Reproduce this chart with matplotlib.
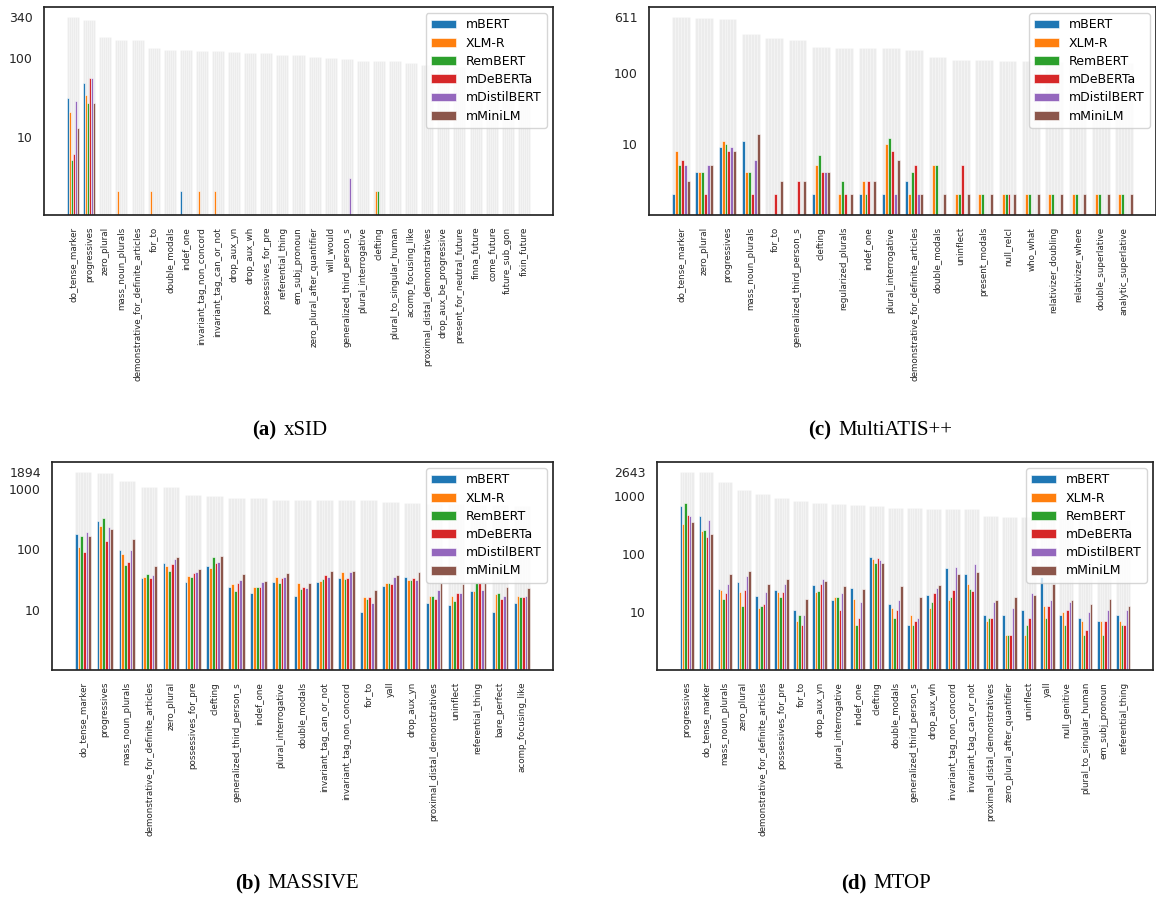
import matplotlib.pyplot as plt
import numpy as np
from matplotlib.offsetbox import TextArea, HPacker, AnnotationBbox

models = ["mBERT", "XLM-R", "RemBERT", "mDeBERTa", "mDistilBERT", "mMiniLM"]
colors = ["#1f77b4", "#ff7f0e", "#2ca02c", "#d62728", "#9467bd", "#8c564b"]

# ---- xSID ----
xsid_features = ["do_tense_marker", "progressives", "zero_plural", "mass_noun_plurals",
                 "demonstrative_for_definite_articles", "for_to", "double_modals", "indef_one",
                 "invariant_tag_non_concord", "invariant_tag_can_or_not", "drop_aux_yn",
                 "drop_aux_wh", "possessives_for_pre", "referential_thing", "em_subj_pronoun",
                 "zero_plural_after_quantifier", "will_would", "generalized_third_person_s",
                 "plural_interrogative", "clefting", "plural_to_singular_human",
                 "acomp_focusing_like", "proximal_distal_demonstratives",
                 "drop_aux_be_progressive", "present_for_neutral_future", "finna_future",
                 "come_future", "future_sub_gon", "fixin_future"]
xsid_totals = [340, 313, 188, 172, 172, 136, 130, 128, 124, 124, 122, 119, 117, 112, 111,
               103, 100, 99, 94, 93, 92, 87, 83, 80, 78, 75, 72, 70, 68]
xsid_mbert = [31, 49, 0, 0, 0, 0, 0, 2, 0, 0, 0, 0, 0, 0, 0,
              0, 0, 0, 0, 0, 0, 0, 0, 0, 0, 0, 0, 0, 0]
xsid_xlmr = [21, 34, 0, 2, 0, 2, 0, 0, 2, 2, 0, 0, 0, 0, 0,
             0, 0, 0, 0, 2, 0, 0, 0, 0, 0, 0, 0, 0, 0]
xsid_rembert = [5, 27, 0, 0, 0, 0, 0, 0, 0, 0, 0, 0, 0, 0, 0,
                0, 0, 0, 0, 2, 0, 0, 0, 0, 0, 0, 0, 0, 0]
xsid_mdeberta = [6, 57, 0, 0, 0, 0, 0, 0, 0, 0, 0, 0, 0, 0, 0,
                 0, 0, 0, 0, 0, 0, 0, 0, 0, 0, 0, 0, 0, 0]
xsid_mdistil = [29, 57, 0, 0, 0, 0, 0, 0, 0, 0, 0, 0, 0, 0, 0,
                0, 0, 3, 0, 0, 0, 0, 0, 0, 0, 0, 0, 0, 0]
xsid_mminilm = [13, 27, 0, 0, 0, 0, 0, 0, 0, 0, 0, 0, 0, 0, 0,
                0, 0, 0, 0, 0, 0, 0, 0, 0, 0, 0, 0, 0, 0]

# ---- MASSIVE ----
massive_features = ["do_tense_marker", "progressives", "mass_noun_plurals",
                    "demonstrative_for_definite_articles", "zero_plural", "possessives_for_pre",
                    "clefting", "generalized_third_person_s", "indef_one", "plural_interrogative",
                    "double_modals", "invariant_tag_can_or_not", "invariant_tag_non_concord",
                    "for_to", "yall", "drop_aux_yn", "proximal_distal_demonstratives",
                    "uninflect", "referential_thing", "bare_perfect", "acomp_focusing_like"]
massive_totals = [1894, 1830, 1343, 1080, 1075, 794, 764, 708, 705, 656, 655, 650, 648,
                  639, 591, 570, 560, 550, 540, 530, 520]
massive_mbert = [178, 293, 95, 33, 58, 29, 53, 24, 19, 29, 17, 29, 33, 9, 25, 35, 13, 12, 20, 9, 13]
massive_xlmr = [109, 245, 84, 34, 52, 36, 48, 26, 24, 34, 28, 30, 42, 16, 27, 31, 17, 17, 20, 18, 17]
massive_rembert = [165, 333, 54, 39, 44, 34, 74, 20, 24, 27, 22, 32, 32, 15, 27, 31, 17, 14, 27, 19, 16]
massive_mdeberta = [91, 136, 61, 33, 56, 40, 58, 27, 24, 33, 24, 37, 33, 16, 26, 33, 15, 19, 28, 15, 16]
massive_mdistil = [192, 233, 95, 38, 68, 42, 61, 31, 29, 34, 23, 35, 42, 13, 34, 31, 21, 19, 21, 17, 17]
massive_mminilm = [165, 213, 147, 53, 73, 46, 77, 39, 30, 41, 28, 43, 44, 21, 37, 42, 28, 26, 27, 24, 23]

# ---- MultiATIS++ ----
atis_features = ["do_tense_marker", "zero_plural", "progressives", "mass_noun_plurals", "for_to",
                 "generalized_third_person_s", "clefting", "regularized_plurals", "indef_one",
                 "plural_interrogative", "demonstrative_for_definite_articles", "double_modals",
                 "uninflect", "present_modals", "null_relcl", "who_what", "relativizer_doubling",
                 "relativizer_where", "double_superlative", "analytic_superlative"]
atis_totals = [611, 592, 566, 354, 311, 289, 231, 226, 226, 223, 211, 166, 152, 150, 147,
               145, 143, 141, 139, 137]
atis_mbert = [2, 4, 9, 11, 0, 0, 2, 0, 2, 2, 3, 0, 0, 0, 0, 0, 0, 0, 0, 0]
atis_xlmr = [8, 4, 11, 4, 0, 0, 5, 2, 3, 10, 2, 5, 2, 2, 2, 2, 2, 2, 2, 2]
atis_rembert = [5, 4, 10, 4, 0, 0, 7, 3, 2, 12, 4, 5, 2, 2, 2, 2, 2, 2, 2, 2]
atis_mdeberta = [6, 2, 8, 2, 2, 3, 4, 2, 3, 8, 5, 0, 5, 0, 2, 0, 0, 0, 0, 0]
atis_mdistil = [5, 5, 9, 6, 0, 0, 4, 0, 0, 2, 2, 0, 0, 0, 0, 0, 0, 0, 0, 0]
atis_mminilm = [3, 5, 8, 14, 3, 3, 4, 2, 3, 6, 2, 2, 2, 2, 2, 2, 2, 2, 2, 2]

# ---- MTOP ----
mtop_features = ["progressives", "do_tense_marker", "mass_noun_plurals", "zero_plural",
                 "demonstrative_for_definite_articles", "possessives_for_pre", "for_to",
                 "drop_aux_yn", "plural_interrogative", "indef_one", "clefting", "double_modals",
                 "generalized_third_person_s", "drop_aux_wh", "invariant_tag_non_concord",
                 "invariant_tag_can_or_not", "proximal_distal_demonstratives",
                 "zero_plural_after_quantifier", "uninflect", "yall", "null_genitive",
                 "plural_to_singular_human", "em_subj_pronoun", "referential_thing"]
mtop_totals = [2643, 2620, 1770, 1286, 1096, 946, 839, 765, 726, 706, 687, 627, 627, 610,
               603, 603, 450, 443, 438, 430, 420, 410, 400, 395]
mtop_mbert = [679, 461, 25, 33, 19, 24, 11, 29, 16, 26, 88, 14, 6, 20, 58, 45, 9, 9, 11, 41, 9, 8, 7, 9]
mtop_xlmr = [331, 250, 24, 22, 12, 22, 7, 22, 18, 17, 82, 12, 9, 12, 16, 30, 7, 4, 4, 13, 10, 7, 7, 7]
mtop_rembert = [757, 261, 17, 13, 13, 18, 9, 23, 18, 6, 71, 8, 6, 15, 18, 25, 8, 4, 6, 8, 6, 4, 4, 6]
mtop_mdeberta = [474, 195, 21, 24, 14, 22, 6, 30, 11, 8, 85, 11, 7, 21, 24, 23, 8, 4, 8, 13, 11, 5, 7, 6]
mtop_mdistil = [456, 388, 30, 42, 22, 30, 9, 38, 21, 15, 79, 16, 8, 26, 59, 67, 15, 12, 21, 16, 15, 10, 11, 11]
mtop_mminilm = [363, 222, 45, 51, 31, 37, 17, 35, 28, 25, 70, 28, 18, 29, 46, 49, 16, 18, 20, 31, 16, 14, 17, 13]

W, H = 1156, 900
fig = plt.figure(figsize=(W / 100, H / 100), dpi=100)


def make_axes(left, top, right, bottom):
    # pixel box -> figure fraction
    return fig.add_axes([left / W, 1 - bottom / H, (right - left) / W, (bottom - top) / H])


def draw_panel(ax, features, totals, counts, yticks):
    x = np.arange(len(features))
    w = 0.125
    for i, (model, color) in enumerate(zip(models, colors)):
        pos = x + (i - 2.5) * w
        ax.bar(pos, totals, w, color="#d6d6d6", alpha=0.45, edgecolor="white", linewidth=0.4)
        ax.bar(pos, counts[i], w, color=color, edgecolor="white", linewidth=0.4, label=model)
    ax.set_yscale("log")
    ax.set_ylim(1, max(totals) ** 1.05)
    ax.set_yticks(yticks)
    ax.set_yticklabels([str(t) for t in yticks])
    ax.minorticks_off()
    ax.set_xticks(x)
    ax.set_xticklabels(features, rotation=90, fontsize=6.3)
    ax.tick_params(axis="both", length=0, colors="#262626")
    ax.tick_params(axis="x", pad=8.5)
    ax.tick_params(axis="y", pad=8, labelsize=9)
    for sp in ax.spines.values():
        sp.set_color("#262626")
        sp.set_linewidth(1.25)
    ax.legend(loc="upper right", fontsize=9, labelspacing=0.42, framealpha=0.8,
              edgecolor="#cccccc")


def caption(x, y, tag, name):
    serif = "Liberation Serif"
    box = HPacker(children=[TextArea(tag, textprops=dict(family=serif, size=15, fontweight="bold")),
                            TextArea(name, textprops=dict(family=serif, size=15))],
                  pad=0, sep=5, align="baseline")
    fig.add_artist(AnnotationBbox(box, (x / W, 1 - y / H), xycoords="figure fraction",
                                  frameon=False, box_alignment=(0.5, 0.5)))


ax_a = make_axes(44, 7, 553, 215)
draw_panel(ax_a, xsid_features, xsid_totals,
           [xsid_mbert, xsid_xlmr, xsid_rembert, xsid_mdeberta, xsid_mdistil, xsid_mminilm],
           [10, 100, 340])

ax_c = make_axes(649, 7, 1156, 215)
draw_panel(ax_c, atis_features, atis_totals,
           [atis_mbert, atis_xlmr, atis_rembert, atis_mdeberta, atis_mdistil, atis_mminilm],
           [10, 100, 611])

ax_b = make_axes(52, 462, 553, 670)
draw_panel(ax_b, massive_features, massive_totals,
           [massive_mbert, massive_xlmr, massive_rembert, massive_mdeberta, massive_mdistil,
            massive_mminilm],
           [10, 100, 1000, 1894])

ax_d = make_axes(657, 462, 1153, 670)
draw_panel(ax_d, mtop_features, mtop_totals,
           [mtop_mbert, mtop_xlmr, mtop_rembert, mtop_mdeberta, mtop_mdistil, mtop_mminilm],
           [10, 100, 1000, 2643])

caption(290, 430, "(a)", "xSID")
caption(880, 430, "(c)", "MultiATIS++")
caption(297, 883, "(b)", "MASSIVE")
caption(886, 883, "(d)", "MTOP")

fig.savefig("out.png", dpi=100)
